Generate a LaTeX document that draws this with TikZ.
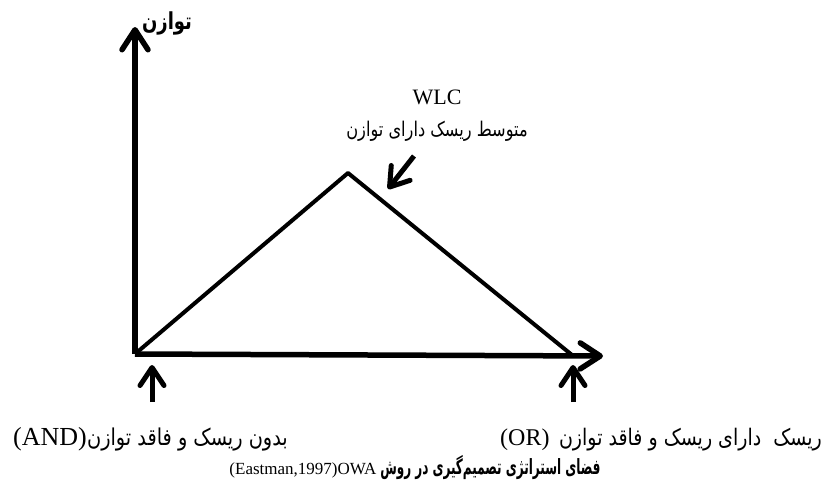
\documentclass[tikz,border=0pt]{standalone}
\usepackage{fontspec}
\usepackage{graphicx}
\setmainfont{Liberation Serif}
\newfontfamily\arabicfont[Script=Arabic]{DejaVu Sans}
\TeXXeTstate=1
\usetikzlibrary{arrows.meta}
\newcommand\fatxt[4]{\scalebox{#2}[#3]{\arabicfont\fontsize{#1}{#1}\selectfont #4}}
\newcommand\fabold[4]{\scalebox{#2}[#3]{\arabicfont\bfseries\fontsize{#1}{#1}\selectfont #4}}
\begin{document}
\begin{tikzpicture}[x=1pt,y=-1pt,
  axis/.style={line width=5.5pt,-{Straight Barb[length=20pt,width=26pt,round]}},
  pointer/.style={line width=5pt,-{Straight Barb[length=18pt,width=24pt,round]}},
  curve/.style={line width=4pt,line join=round},
  lbl/.style={inner sep=0pt}]
\useasboundingbox[fill=white] (0,0) rectangle (828,488);
\coordinate (o) at (135,354);
\coordinate (ytip) at (135,27);
\coordinate (xtip) at (603,356);
\coordinate (apex) at (348,173);
\coordinate (rend) at (572,355);
\coordinate (w1) at (414,156);
\coordinate (w2) at (388,189);
\coordinate (a1) at (152,402);
\coordinate (a2) at (152,365);
\coordinate (b1) at (573,402);
\coordinate (b2) at (573,365);
\draw[axis] (o) -- (ytip);
\draw[axis] (o) -- (xtip);
\draw[curve] (o) -- (apex) -- (rend);
\draw[pointer] (w1) -- (w2);
\draw[pointer] (a1) -- (a2);
\draw[pointer] (b1) -- (b2);
\node[lbl] (ylab) at (167,23) {\fabold{18}{1}{1.3}{\beginR توازن\endR}};
\node[lbl,font=\fontsize{22}{24}\selectfont] (wlc) at (437,97) {WLC};
\node[lbl] (wlcfa) at (437,131) {\fatxt{16.2}{1}{1.25}{\beginR متوسط ریسک دارای توازن\endR}};
\node[lbl,anchor=base west,font=\fontsize{26}{28}\selectfont] (andlat) at (13,445) {(AND)};
\node[lbl,anchor=base east] (andfa) at (288,445) {\fatxt{19.3}{1}{1.2}{\beginR بدون ریسک و فاقد توازن\endR}};
\node[lbl,anchor=base west,font=\fontsize{24}{26}\selectfont] (orlat) at (500,445) {(OR)};
\node[lbl,anchor=base east] (orfa) at (822,445) {\fatxt{19}{1}{1.2}{\beginR ریسک\ \ دارای ریسک و فاقد توازن\endR}};
\node[lbl,anchor=base] (cap) at (415,474) {{\fontsize{17}{19}\selectfont (Eastman,1997)OWA}\hspace{4pt}\fabold{15}{0.8}{1.4}{\beginR فضای استراتژی تصمیم‌گیری در روش\endR}};
\end{tikzpicture}
\end{document}
